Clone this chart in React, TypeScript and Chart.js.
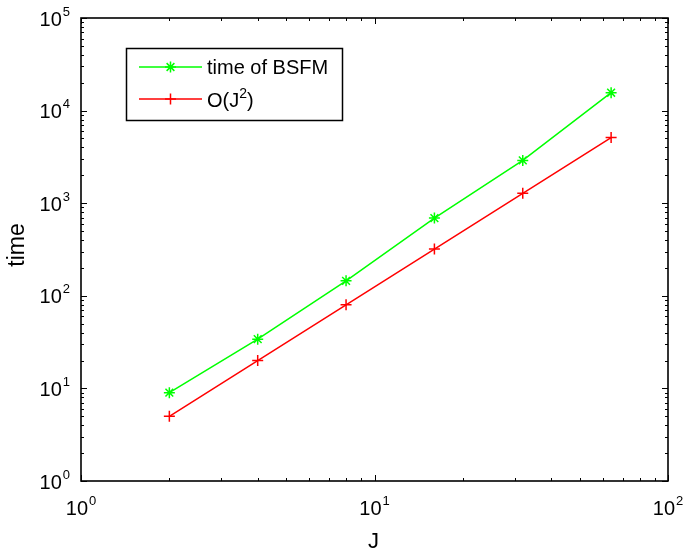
import React, { useEffect, useRef } from "react";
import { Chart, registerables } from "chart.js";

Chart.register(...registerables);

// ---- data ----
const J = [2, 4, 8, 16, 32, 64];
const timeBSFM = [9, 34, 145, 690, 2900, 15600];
const orderJ2 = [5, 20, 80, 320, 1280, 5120];
const xTickExponents = [0, 1, 2];
const yTickExponents = [0, 1, 2, 3, 4, 5];
const xTitle = "J";
const yTitle = "time";
const legendGreen = [{ t: "time of BSFM", sup: false }];
const legendRed = [
  { t: "O(J", sup: false },
  { t: "2", sup: true },
  { t: ")", sup: false },
];

const FONT = '"Liberation Sans", Arial, Helvetica, sans-serif';
const GREEN = "#00ff00";
const RED = "#ff0000";

function drawRuns(ctx: CanvasRenderingContext2D, runs: { t: string; sup: boolean }[], x: number, y: number, size: number, supSize: number, supRise: number) {
  let cx = x;
  ctx.textAlign = "left";
  ctx.textBaseline = "alphabetic";
  for (const r of runs) {
    ctx.font = `${r.sup ? supSize : size}px ${FONT}`;
    ctx.fillText(r.t, cx, r.sup ? y - supRise : y);
    cx += ctx.measureText(r.t).width;
  }
}

function drawPow(ctx: CanvasRenderingContext2D, exp: number, x: number, y: number, align: "center" | "right") {
  const base = "10";
  const e = String(exp);
  ctx.font = `20px ${FONT}`;
  const wb = ctx.measureText(base).width;
  ctx.font = `13px ${FONT}`;
  const we = ctx.measureText(e).width;
  const total = wb + we + 1;
  const sx = align === "center" ? x - total / 2 : x - total;
  ctx.textAlign = "left";
  ctx.textBaseline = "alphabetic";
  ctx.font = `20px ${FONT}`;
  ctx.fillText(base, sx, y);
  ctx.font = `13px ${FONT}`;
  ctx.fillText(e, sx + wb + 1, y - 10);
}

function drawMarker(ctx: CanvasRenderingContext2D, style: string, x: number, y: number, r: number) {
  ctx.beginPath();
  ctx.moveTo(x - r, y);
  ctx.lineTo(x + r, y);
  ctx.moveTo(x, y - r);
  ctx.lineTo(x, y + r);
  if (style === "star") {
    const d = r * Math.SQRT1_2;
    ctx.moveTo(x - d, y - d);
    ctx.lineTo(x + d, y + d);
    ctx.moveTo(x - d, y + d);
    ctx.lineTo(x + d, y - d);
  }
  ctx.stroke();
}

const axesPlugin = {
  id: "matlabAxes",
  afterDraw(chart: any) {
    const ctx: CanvasRenderingContext2D = chart.ctx;
    const { left, right, top, bottom } = chart.chartArea;
    const xs = chart.scales.x;
    const ys = chart.scales.y;
    ctx.save();
    ctx.strokeStyle = "#000";
    ctx.fillStyle = "#000";
    ctx.lineWidth = 1.6;
    ctx.strokeRect(left, top, right - left, bottom - top);
    const majorLen = 6;
    const minorLen = 3;
    ctx.lineWidth = 1;
    ctx.beginPath();
    const xLast = xTickExponents[xTickExponents.length - 1];
    for (let d = xTickExponents[0]; d <= xLast; d++) {
      for (let m = 1; m <= 9; m++) {
        if (d === xLast && m > 1) break;
        const v = m * Math.pow(10, d);
        const px = Math.round(xs.getPixelForValue(v)) + 0.5;
        const len = m === 1 ? majorLen : minorLen;
        ctx.moveTo(px, bottom);
        ctx.lineTo(px, bottom - len);
        ctx.moveTo(px, top);
        ctx.lineTo(px, top + len);
      }
    }
    const yLast = yTickExponents[yTickExponents.length - 1];
    for (let d = yTickExponents[0]; d <= yLast; d++) {
      for (let m = 1; m <= 9; m++) {
        if (d === yLast && m > 1) break;
        const v = m * Math.pow(10, d);
        const py = Math.round(ys.getPixelForValue(v)) + 0.5;
        const len = m === 1 ? majorLen : minorLen;
        ctx.moveTo(left, py);
        ctx.lineTo(left + len, py);
        ctx.moveTo(right, py);
        ctx.lineTo(right - len, py);
      }
    }
    ctx.stroke();
    for (const e of xTickExponents) {
      const px = xs.getPixelForValue(Math.pow(10, e));
      drawPow(ctx, e, px, bottom + 34, "center");
    }
    for (const e of yTickExponents) {
      const py = ys.getPixelForValue(Math.pow(10, e));
      drawPow(ctx, e, left - 11, py + 7.5, "right");
    }
    ctx.textAlign = "center";
    ctx.textBaseline = "alphabetic";
    ctx.font = `22px ${FONT}`;
    ctx.fillText(xTitle, (left + right) / 2 - 1, 548);
    ctx.save();
    ctx.font = `23px ${FONT}`;
    ctx.translate(24, 245);
    ctx.rotate(-Math.PI / 2);
    ctx.fillText(yTitle, 0, 0);
    ctx.restore();

    // legend
    const lx0 = 126.5, ly0 = 48.5, lx1 = 342.5, ly1 = 120.5;
    ctx.fillStyle = "#fff";
    ctx.fillRect(lx0, ly0, lx1 - lx0, ly1 - ly0);
    ctx.strokeStyle = "#000";
    ctx.lineWidth = 1.5;
    ctx.strokeRect(lx0, ly0, lx1 - lx0, ly1 - ly0);
    const rows = [
      { y: 67, color: GREEN, style: "star", runs: legendGreen, base: 73.5 },
      { y: 99, color: RED, style: "cross", runs: legendRed, base: 106.5 },
    ];
    for (const r of rows) {
      ctx.strokeStyle = r.color;
      ctx.lineWidth = 1.5;
      ctx.beginPath();
      ctx.moveTo(139, r.y);
      ctx.lineTo(202, r.y);
      ctx.stroke();
      drawMarker(ctx, r.style, 170.5, r.y, 5.5);
      ctx.fillStyle = "#000";
      drawRuns(ctx, r.runs, 207, r.base, 20, 14, 9);
    }
    ctx.restore();
  },
};

export default function App() {
  const ref = useRef<HTMLCanvasElement | null>(null);
  useEffect(() => {
    if (!ref.current) return;
    const chart = new Chart(ref.current, {
      type: "line",
      data: {
        datasets: [
          {
            label: "time of BSFM",
            data: J.map((j, i) => ({ x: j, y: timeBSFM[i] })),
            borderColor: GREEN,
            backgroundColor: GREEN,
            borderWidth: 1.5,
            pointStyle: "star",
            pointRadius: 5.5,
            pointBorderWidth: 1.5,
            pointBorderColor: GREEN,
            fill: false,
            tension: 0,
          },
          {
            label: "O(J^2)",
            data: J.map((j, i) => ({ x: j, y: orderJ2[i] })),
            borderColor: RED,
            backgroundColor: RED,
            borderWidth: 1.5,
            pointStyle: "cross",
            pointRadius: 5.5,
            pointBorderWidth: 1.5,
            pointBorderColor: RED,
            fill: false,
            tension: 0,
          },
        ],
      },
      options: {
        responsive: false,
        animation: false,
        layout: { padding: { left: 81, right: 17, top: 18, bottom: 77 } },
        plugins: { legend: { display: false }, tooltip: { enabled: false }, title: { display: false } },
        scales: {
          x: { type: "logarithmic", min: 1, max: 100, display: false },
          y: { type: "logarithmic", min: 1, max: 100000, display: false },
        },
      },
      plugins: [axesPlugin],
    });
    return () => chart.destroy();
  }, []);
  return (
    <div style={{ position: "absolute", left: 0, top: 0, width: 685, height: 558, background: "#fff" }}>
      <canvas ref={ref} width={685} height={558} style={{ display: "block" }} />
    </div>
  );
}
